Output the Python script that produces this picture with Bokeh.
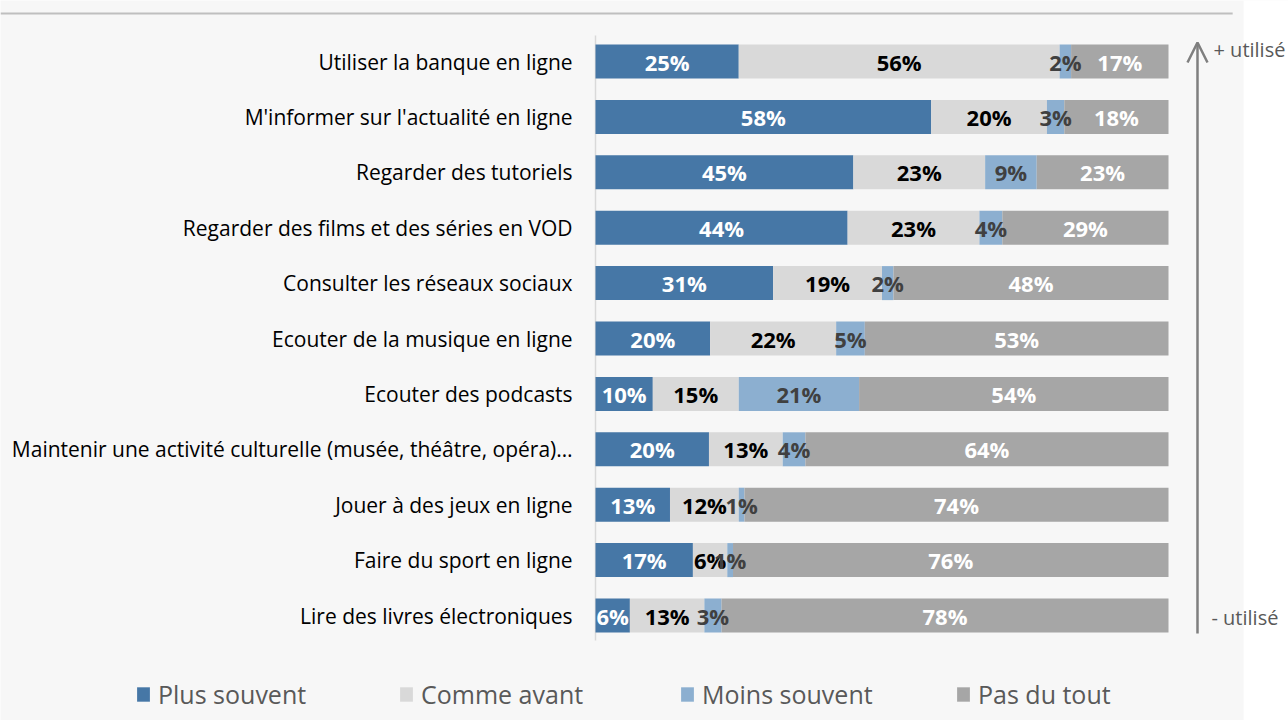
from bokeh.plotting import figure
from bokeh.models import ColumnDataSource, Range1d, Legend, LegendItem, Arrow, OpenHead
from bokeh.core.properties import value
from bokeh.embed import file_html
from bokeh.resources import INLINE

# ---------------- data ----------------
categories = [
    "Utiliser la banque en ligne",
    "M'informer sur l'actualité en ligne",
    "Regarder des tutoriels",
    "Regarder des films et des séries en VOD",
    "Consulter les réseaux sociaux",
    "Ecouter de la musique en ligne",
    "Ecouter des podcasts",
    "Maintenir une activité culturelle (musée, théâtre, opéra)…",
    "Jouer à des jeux en ligne",
    "Faire du sport en ligne",
    "Lire des livres électroniques",
]
series_names = ["Plus souvent", "Comme avant", "Moins souvent", "Pas du tout"]
plus_souvent = [25, 58, 45, 44, 31, 20, 10, 20, 13, 17, 6]
comme_avant = [56, 20, 23, 23, 19, 22, 15, 13, 12, 6, 13]
moins_souvent = [2, 3, 9, 4, 2, 5, 21, 4, 1, 1, 3]
pas_du_tout = [17, 18, 23, 29, 48, 53, 54, 64, 74, 76, 78]
axis_top_label = "+ utilisé"
axis_bottom_label = "- utilisé"

# ---------------- style ----------------
series_colors = ["#4677a6", "#d9d9d9", "#8cafd0", "#a6a6a6"]
label_colors = ["#ffffff", "#000000", "#404040", "#ffffff"]
FONT = "Open Sans"

W, H = 1288, 720
X0_PX = 595.0        # pixel of 0 %
PX_PER_PCT = 5.73    # pixels per percent
ROW0_PX = 61.0       # pixel of first row center
ROW_PX = 55.4        # pixels per row

x_start = -X0_PX / PX_PER_PCT
x_end = (W - X0_PX) / PX_PER_PCT
y_top = -ROW0_PX / ROW_PX
y_bottom = (H - ROW0_PX) / ROW_PX

p = figure(width=W, height=H, output_backend="svg", toolbar_location=None,
           x_range=Range1d(x_start, x_end), y_range=Range1d(y_bottom, y_top),
           x_axis_location=None, y_axis_location=None,
           min_border=0, min_border_left=0, min_border_right=0,
           min_border_top=0, min_border_bottom=0)
p.background_fill_color = "#f7f7f7"
p.border_fill_color = "#f7f7f7"
p.outline_line_color = None
p.xgrid.visible = False
p.ygrid.visible = False

n = len(categories)
rows = list(range(n))

# white strip on the right
p.quad(left=[113.1], right=[x_end + 5], bottom=[y_bottom + 1], top=[y_top - 1],
       fill_color="#ffffff", line_color=None)

# top rule
p.segment(x0=[x_start], x1=[111.2], y0=[-0.866], y1=[-0.866],
          line_color="#bfbfbf", line_width=2)

# vertical separator at 0 %
p.segment(x0=[0], x1=[0], y0=[-0.47], y1=[n - 1 + 0.45],
          line_color="#d9d9d9", line_width=1.5)

series = [plus_souvent, comme_avant, moins_souvent, pas_du_tout]
totals = [sum(v[i] for v in series) for i in range(n)]
left = [0.0] * n
renderers = []
segments = []
for k, vals in enumerate(series):
    lefts = left[:]
    rights = [lefts[i] + vals[i] / totals[i] * 100.0 for i in range(n)]
    src = ColumnDataSource(dict(y=rows, left=lefts, right=rights))
    r = p.hbar(y="y", left="left", right="right", height=0.614, source=src,
               fill_color=series_colors[k], line_color=None)
    renderers.append(r)
    segments.append((lefts, rights))
    left = rights

# value labels drawn after all bars
for k, vals in enumerate(series):
    lefts, rights = segments[k]
    src = ColumnDataSource(dict(y=rows,
                                xc=[(lefts[i] + rights[i]) / 2 for i in range(n)],
                                lab=[f"{v}%" for v in vals]))
    p.text(x="xc", y="y", text="lab", source=src, text_align="center",
           text_baseline="middle", text_font=value(FONT), text_font_style="bold",
           text_font_size="22px", text_color=label_colors[k])

# category labels
p.text(x=[-4.0] * n, y=rows, text=categories, text_align="right",
       text_baseline="middle", text_font=value(FONT), text_font_size="21px",
       text_color="#000000")

# arrow on the right
p.add_layout(Arrow(end=OpenHead(size=20, line_color="#7f7f7f", line_width=2.5),
                   x_start=105.06, x_end=105.06, y_start=n - 1 + 0.325, y_end=-0.343,
                   line_color="#7f7f7f", line_width=2.5))
p.text(x=[107.85], y=[-0.22], text=[axis_top_label], text_align="left",
       text_baseline="middle", text_font=value(FONT), text_font_size="20px",
       text_color="#595959")
p.text(x=[107.5], y=[n - 1 + 0.04], text=[axis_bottom_label], text_align="left",
       text_baseline="middle", text_font=value(FONT), text_font_size="20px",
       text_color="#595959")

# legends (one per item, positioned along the bottom)
leg_x = [135, 398, 679, 955]
for k in range(4):
    leg = Legend(items=[LegendItem(label=series_names[k], renderers=[renderers[k]])],
                 location=(leg_x[k], 9), orientation="horizontal",
                 padding=0, margin=0, spacing=0,
                 glyph_width=16, glyph_height=18, label_standoff=7,
                 label_height=18,
                 label_text_font=FONT, label_text_font_size="25px",
                 label_text_color="#595959",
                 border_line_color=None, background_fill_alpha=0)
    p.add_layout(leg)

open("out.html", "w").write(file_html(p, INLINE))
